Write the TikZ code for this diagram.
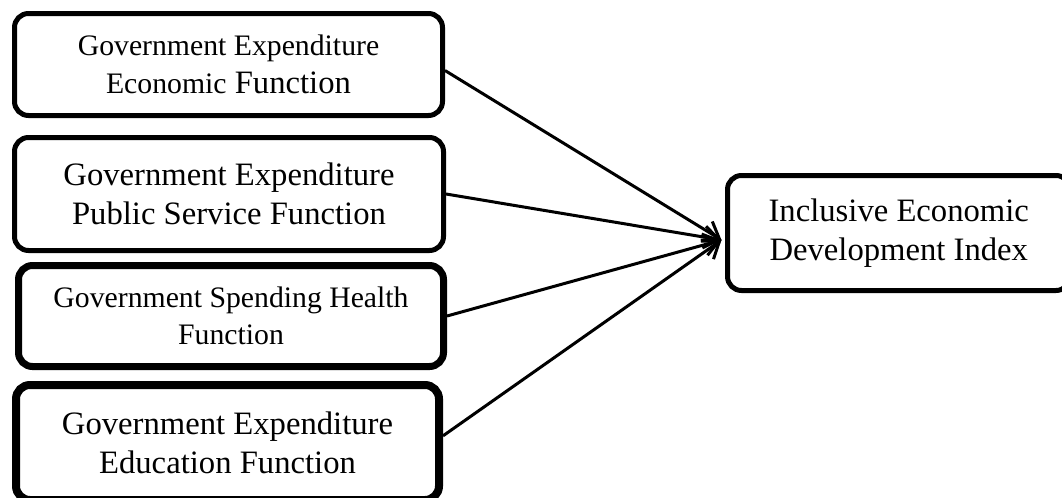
\documentclass[tikz,border=0pt]{standalone}
\usepackage{fontspec}
\setmainfont{Liberation Serif}
\usetikzlibrary{arrows.meta}
\def\px{0.75pt}
\newcommand{\bigf}{\fontsize{24.5pt}{29pt}\selectfont}
\newcommand{\smallf}{\fontsize{22.3pt}{28pt}\selectfont}
\tikzset{
  box/.style={draw=black, rounded corners=10.5pt, align=center, inner sep=0pt, font=\bigf},
  conn/.style={line width=3*\px, -{Straight Barb[length=15*\px, width=22*\px, line width=3*\px]}}
}
\begin{document}
\begin{tikzpicture}[x=0.75pt, y=-0.75pt]
\clip (0,0) rectangle (1062,497);
\node[box, line width=5*\px, minimum width=428*\px, minimum height=102*\px] (b1) at (228.5,64.5)
  {{\smallf Government Expenditure}\\{\smallf Economic} Function};
\node[box, line width=5*\px, minimum width=429*\px, minimum height=113*\px] (b2) at (229,194)
  {Government Expenditure\\Public Service Function};
\node[box, line width=7*\px, minimum width=425*\px, minimum height=101*\px, font=\smallf] (b3) at (231,316)
  {Government Spending Health\\Function};
\node[box, line width=8*\px, minimum width=423*\px, minimum height=115*\px] (b4) at (227.5,442.5)
  {Government Expenditure\\Education Function};
\node[box, line width=5*\px, minimum width=342.5*\px, minimum height=115*\px] (r) at (898.75,233)
  {Inclusive Economic\\Development Index};
\coordinate (tip) at ([xshift=-3.5*\px, yshift=-5.25pt]r.west);
\draw[conn] ([yshift=-4.5pt]b1.east) -- (tip);
\draw[conn] (b2.east) -- (tip);
\draw[conn] (b3.east) -- (tip);
\draw[conn] ([yshift=5pt]b4.east) -- (tip);
\end{tikzpicture}
\end{document}
